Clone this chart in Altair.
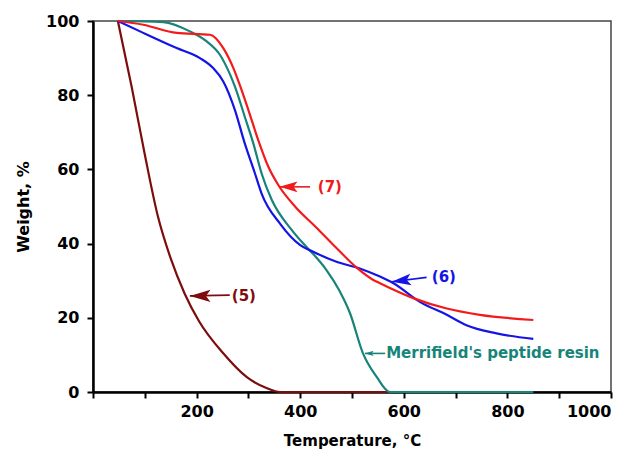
import altair as alt
import pandas as pd

# ---- data ----
s5_x = [48, 75, 100, 125, 150, 177, 205, 251, 297, 336, 361, 850]
s5_y = [100, 82, 64, 47.5, 36, 26.5, 19, 10.5, 4, 1, 0, 0]

mr_x = [48, 135.7, 187, 219.5, 245, 264.5, 274, 293, 309.5, 325.5, 345, 383.5, 406, 425, 450, 475, 496, 521, 548, 573, 850]
mr_y = [100, 99.7, 97.2, 94.5, 90.9, 85.6, 82.3, 74.2, 67, 58.9, 51.8, 43.7, 40, 37.2, 33, 27.5, 21.3, 10.5, 4, 0, 0]

s6_x = [48, 97, 161.5, 206.5, 232, 251.5, 274, 293, 312.7, 325.5, 361, 400, 425, 470, 515, 554, 580, 631, 683, 721, 779, 850]
s6_y = [100, 96.8, 92.7, 90, 87.3, 83.7, 76, 67, 58.9, 53.5, 45.4, 39.6, 37.8, 35.1, 33.3, 31.1, 29.3, 24.3, 20.8, 18, 15.8, 14.3]

s7_x = [48, 97, 161.5, 226, 251.5, 271, 284, 300, 319, 338.5, 357.7, 390, 430, 470, 509, 541, 554, 618, 683, 747, 850]
s7_y = [100, 99, 96.8, 96.3, 92.7, 87.3, 82.5, 76, 67.9, 60.7, 55.8, 50, 44.5, 38.8, 33.5, 30.2, 29.3, 25.3, 22.5, 20.8, 19.4]

series_names = ["(5)", "Merrifield", "(6)", "(7)"]
series_colors = ["#7d0c0c", "#17847a", "#1414e6", "#f21a1a"]

# annotations: label, text position, arrow tail, arrow tip, head size, head angle
ann_text = ["(7)", "(6)", "(5)", "Merrifield's peptide resin"]
ann_series = ["(7)", "(6)", "(5)", "Merrifield"]
ann_tx = [434, 654, 268, 566]
ann_ty = [55.3, 31.1, 26.0, 10.4]
ann_x1 = [419, 644, 264, 564]
ann_y1 = [55.3, 30.9, 26.1, 10.4]
ann_x2 = [360, 576.6, 187, 525]
ann_y2 = [55.3, 29.7, 25.9, 10.4]
ann_size = [1300, 1500, 1700, 300]
ann_angle = [0, 353, 0, 0]

rows = []
for name, xs, ys in [("(5)", s5_x, s5_y), ("Merrifield", mr_x, mr_y),
                     ("(6)", s6_x, s6_y), ("(7)", s7_x, s7_y)]:
    for i, (x, y) in enumerate(zip(xs, ys)):
        rows.append({"series": name, "T": x, "W": y, "i": i})
df = pd.DataFrame(rows)

ann = pd.DataFrame({
    "text": ann_text, "series": ann_series,
    "tx": ann_tx, "ty": ann_ty,
    "x1": ann_x1, "y1": ann_y1, "x2": ann_x2, "y2": ann_y2,
    "size": ann_size, "angle": ann_angle,
})

FONT = "DejaVu Sans"
xscale = alt.Scale(domain=[0, 1000], nice=False, zero=False)
yscale = alt.Scale(domain=[0, 100], nice=False)
cscale = alt.Scale(domain=series_names, range=series_colors)

xaxis = alt.Axis(
    title="Temperature, °C", values=list(range(0, 1001, 100)),
    labelExpr="datum.value % 200 == 0 && datum.value > 0 ? datum.label : ''",
    format="d", grid=False, domainColor="black", domainWidth=2.5,
    tickColor="black", tickWidth=2, tickSize=6, labelPadding=5,
    labelFont=FONT, labelFontSize=16, labelFontWeight="bold", labelColor="black",
    titleFont=FONT, titleFontSize=15, titleFontWeight="bold", titleColor="black",
    titlePadding=14, labelOverlap=False,
)
yaxis = alt.Axis(
    title="Weight, %", values=list(range(0, 101, 20)), grid=False,
    domainColor="black", domainWidth=2.5, tickColor="black", tickWidth=2,
    tickSize=6, labelPadding=8,
    labelFont=FONT, labelFontSize=16, labelFontWeight="bold", labelColor="black",
    titleFont=FONT, titleFontSize=16, titleFontWeight="bold", titleColor="black",
    titlePadding=14,
)

lines = alt.Chart(df).mark_line(strokeWidth=2.2, interpolate="monotone").encode(
    x=alt.X("T:Q", scale=xscale, axis=xaxis),
    y=alt.Y("W:Q", scale=yscale, axis=yaxis),
    color=alt.Color("series:N", scale=cscale, legend=None),
    detail="series:N",
    order="i:Q",
)

shafts = alt.Chart(ann).mark_rule(strokeWidth=1.6).encode(
    x=alt.X("x1:Q", scale=xscale), x2="x2:Q",
    y=alt.Y("y1:Q", scale=yscale), y2="y2:Q",
    color=alt.Color("series:N", scale=cscale, legend=None),
)

heads = alt.Chart(ann).mark_point(
    shape="M0,0 L1,-0.3 L0.78,0 L1,0.3 Z", filled=True, opacity=1, strokeWidth=0,
).encode(
    x=alt.X("x2:Q", scale=xscale), y=alt.Y("y2:Q", scale=yscale),
    size=alt.Size("size:Q", scale=None, legend=None),
    angle=alt.Angle("angle:Q", scale=None),
    color=alt.Color("series:N", scale=cscale, legend=None),
)

labels = alt.Chart(ann).mark_text(
    align="left", baseline="middle", font=FONT, fontSize=15, fontWeight="bold",
).encode(
    x=alt.X("tx:Q", scale=xscale), y=alt.Y("ty:Q", scale=yscale),
    text="text:N",
    color=alt.Color("series:N", scale=cscale, legend=None),
)

chart = alt.layer(lines, shafts, heads, labels).properties(
    width=518, height=371,
    autosize=alt.AutoSizeParams(type="none"),
    padding={"left": 85, "top": 13, "right": 18, "bottom": 59},
    background="white",
).configure_view(stroke="#444", strokeWidth=1.5)

chart.save("out.html", embed_options={"renderer": "svg", "actions": False})
